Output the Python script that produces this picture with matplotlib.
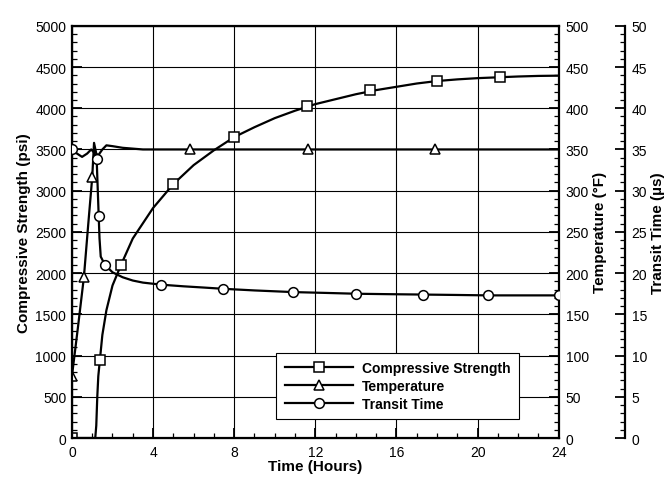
import matplotlib
matplotlib.use("Agg")
import matplotlib.pyplot as plt
from matplotlib.lines import Line2D
from matplotlib.ticker import MultipleLocator

plt.rcParams['font.family'] = ['Liberation Sans', 'DejaVu Sans']

# Compressive strength (psi)
str_t = [0, 1.15, 1.2, 1.25, 1.3, 1.38, 1.5, 1.7, 2.0, 2.42, 3.0, 4.0, 5.0, 6.0, 7.0, 8.0,
         9.0, 10.0, 11.0, 12.0, 13.0, 14.0, 15.0, 16.0, 17.0, 18.0, 19.0, 20.0, 21.0,
         22.0, 23.0, 24.0]
str_v = [0, 0, 150, 500, 750, 950, 1250, 1550, 1850, 2100, 2420, 2790, 3080, 3310, 3490, 3650,
         3770, 3880, 3970, 4050, 4110, 4170, 4220, 4260, 4300, 4330, 4350, 4365, 4375,
         4385, 4392, 4395]
str_mt = [0, 1.38, 2.42, 5.0, 8.0, 11.6, 14.7, 18.0, 21.1]
str_mv = [0, 950, 2100, 3080, 3650, 4030, 4220, 4330, 4375]

# Temperature (F)
tmp_t = [0, 0.3, 0.59, 0.8, 1.0, 1.09, 1.2, 1.3, 1.5, 1.7, 2.0, 2.5, 3.0, 3.5, 5, 8, 12, 16, 20, 24]
tmp_v = [75, 135, 195, 258, 316, 358, 345, 343, 350, 355, 354, 352, 351, 350, 350, 350, 350, 350, 350, 350]
tmp_mt = [0, 0.59, 1.0, 5.8, 11.65, 17.9]
tmp_mv = [75, 195, 316, 350, 350, 350]

# Transit time (us)
trn_t = [0, 0.25, 0.5, 0.75, 0.95, 1.1, 1.22, 1.32, 1.36, 1.42, 1.63, 2.0, 2.5, 3.0, 3.5,
         4.4, 5.5, 6.5, 7.45, 9.0, 10.9, 12.5, 14.0, 15.5, 17.3, 19.0, 20.5, 22.0, 24.0]
trn_v = [35, 34.5, 34.1, 34.5, 35.0, 34.6, 33.8, 26.9, 24.2, 22.0, 21.0, 20.1, 19.5, 19.1, 18.85,
         18.6, 18.4, 18.25, 18.1, 17.9, 17.7, 17.6, 17.5, 17.45, 17.4, 17.35, 17.3, 17.3, 17.3]
trn_mt = [0, 1.22, 1.32, 1.63, 4.4, 7.45, 10.9, 14.0, 17.3, 20.5, 24.0]
trn_mv = [35, 33.8, 26.9, 21.0, 18.6, 18.1, 17.7, 17.5, 17.4, 17.3, 17.3]

fig = plt.figure(figsize=(6.66, 4.81), dpi=100)
ax = fig.add_axes([0.108, 0.0873, 0.731, 0.857])
ax2 = ax.twinx()
ax3 = ax.twinx()

lw = 1.6
mk = dict(markersize=7, markerfacecolor='white', markeredgecolor='black',
          markeredgewidth=1.1, linestyle='none')

ax.plot(str_t, str_v, color='black', lw=lw)
ax.plot(str_mt, str_mv, marker='s', **mk)
ax2.plot(tmp_t, tmp_v, color='black', lw=lw)
ax2.plot(tmp_mt, tmp_mv, marker='^', **mk)
ax3.plot(trn_t, trn_v, color='black', lw=lw)
ax3.plot(trn_mt, trn_mv, marker='o', **mk)

ax.set_xlim(0, 24)
ax.set_ylim(0, 5000)
ax2.set_ylim(0, 500)
ax3.set_ylim(0, 50)

ax.xaxis.set_major_locator(MultipleLocator(4))
ax.xaxis.set_minor_locator(MultipleLocator(1))
ax.yaxis.set_major_locator(MultipleLocator(500))
ax.yaxis.set_minor_locator(MultipleLocator(100))
ax2.yaxis.set_major_locator(MultipleLocator(50))
ax2.yaxis.set_minor_locator(MultipleLocator(10))
ax3.yaxis.set_major_locator(MultipleLocator(5))
ax3.yaxis.set_minor_locator(MultipleLocator(1))

ax.grid(True, which='major', color='black', lw=0.8)
ax.set_axisbelow(True)

for a in (ax, ax2, ax3):
    a.tick_params(which='major', direction='in', length=7, width=1.3, labelsize=10)
    a.tick_params(which='minor', direction='in', length=3.5, width=0.9)
ax.tick_params(axis='x', which='major', pad=5)
ax.tick_params(axis='y', which='major', pad=4)
ax2.tick_params(axis='y', which='major', pad=5)
ax3.tick_params(axis='y', which='major', pad=5)

ax3.spines['right'].set_position(('axes', 1.1355))
for s in ('left', 'top', 'bottom'):
    ax3.spines[s].set_visible(False)
ax2.spines['right'].set_visible(False)
for s in ax.spines.values():
    s.set_linewidth(1.6)
ax3.spines['right'].set_linewidth(1.6)

ax.set_xlabel('Time (Hours)', fontsize=11, fontweight='bold', labelpad=0)
ax.set_ylabel('Compressive Strength (psi)', fontsize=11, fontweight='bold', labelpad=3)
ax2.set_ylabel('Temperature (°F)', fontsize=11, fontweight='bold', labelpad=3)
ax3.set_ylabel('Transit Time (µs)', fontsize=11, fontweight='bold', labelpad=3)

handles = [
    Line2D([], [], color='black', lw=lw, marker=m, markersize=7,
           markerfacecolor='white', markeredgecolor='black', markeredgewidth=1.1)
    for m in ('s', '^', 'o')
]
labels = ['Compressive Strength', 'Temperature', 'Transit Time']
leg = ax3.legend(handles, labels, loc='lower right', bbox_to_anchor=(0.918, 0.046),
                 borderaxespad=0, fancybox=False, frameon=True, edgecolor='black',
                 framealpha=1, handlelength=4.9, prop={'weight': 'bold', 'size': 10},
                 borderpad=0.6, labelspacing=0.28, handletextpad=0.65)
leg.get_frame().set_linewidth(0.8)

fig.savefig('out.png', dpi=100)
